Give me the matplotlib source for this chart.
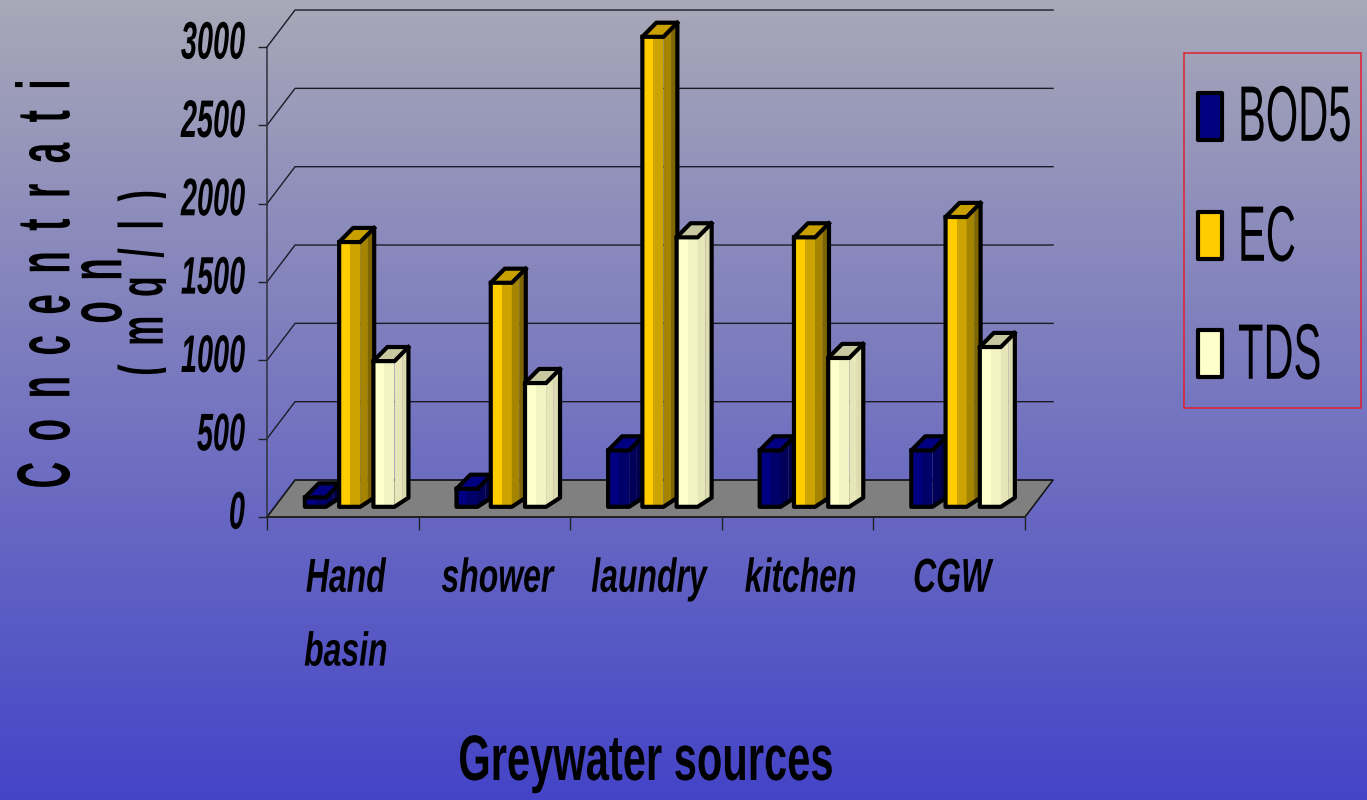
import numpy as np
import matplotlib
matplotlib.use("Agg")
import matplotlib.pyplot as plt
from matplotlib.patches import Polygon, Rectangle
from matplotlib.patheffects import AbstractPathEffect
from matplotlib.transforms import Affine2D

# -------------------------
# Data
# -------------------------
sources = ["Hand\nbasin", "shower", "laundry", "kitchen", "CGW"]
series_names = ["BOD5", "EC", "TDS"]
bod5 = [60, 115, 360, 360, 360]
ec = [1690, 1430, 3000, 1720, 1850]
tds = [930, 790, 1720, 950, 1020]
y_ticks = [0, 500, 1000, 1500, 2000, 2500, 3000]

# front, front shade, side, side shade, top
palette = {
    "BOD5": ["#000080", "#00006a", "#000058", "#000048", "#000080"],
    "EC": ["#ffcc00", "#cca300", "#a58400", "#7f6600", "#c8a000"],
    "TDS": ["#ffffcc", "#f2f2c2", "#e6e6b8", "#dcdcb0", "#c8c8a0"],
}

W, H = 1367, 800
FONT = ["Liberation Sans"]

# depth of the floor and of the bars, in data units
WALL_DX, WALL_DY = 0.185, 236
BAR_DX = 0.092
BAR_DY_TOP, BAR_DY_BOTTOM = 90, 58
BAR_BASE = 65
BAR_START, BAR_PITCH, BAR_W = 0.25, 0.226, 0.139


class Squeeze(AbstractPathEffect):
    # stretches a text around an anchor given in figure pixels
    def __init__(self, sx, sy, anchor, shift=(0, 0)):
        super().__init__()
        self.sx, self.sy, self.anchor, self.shift = sx, sy, anchor, shift

    def draw_path(self, renderer, gc, tpath, affine, rgbFace=None):
        cx, cy = self.anchor
        extra = (Affine2D().translate(-cx, -cy).scale(self.sx, self.sy)
                 .translate(cx + self.shift[0], cy + self.shift[1]))
        renderer.draw_path(gc, tpath, affine + extra, rgbFace)


fig = plt.figure(figsize=(W / 100, H / 100), dpi=100)

# overlay in pixel coordinates for background, legend and titles
bg = fig.add_axes([0, 0, 1, 1], zorder=0)
bg.set_xlim(0, W)
bg.set_ylim(H, 0)
bg.axis("off")
top = np.array([168, 168, 184]) / 255
bottom = np.array([68, 68, 200]) / 255
t = np.linspace(0, 1, 256)[:, None, None]
bg.imshow(top * (1 - t) + bottom * t, extent=[0, W, H, 0], aspect="auto", zorder=0)


def put_text(x, y, s, size, sx=1.0, sy=1.0, weight="normal", style="normal", ha="center", rotation=0, clip=None):
    txt = bg.text(x, y, s, fontsize=size, family=FONT, fontweight=weight, fontstyle=style,
                  ha=ha, va="center", rotation=rotation, color="black", zorder=5)
    txt.set_path_effects([Squeeze(sx, sy, (x, H - y))])
    if clip is not None:
        txt.set_clip_path(Rectangle((clip[0], clip[1]), clip[2], clip[3], transform=bg.transData))
        txt.set_clip_on(True)
    return txt


# -------------------------
# Main axes
# -------------------------
ax = fig.add_axes([267 / W, 1 - 517 / H, (1025 - 267) / W, (517 - 47) / H], zorder=1)
ax.patch.set_visible(False)
ax.set_xlim(0, 5)
ax.set_ylim(0, 3000)
for side in ["top", "right"]:
    ax.spines[side].set_visible(False)
ax.spines["left"].set_color("#30303c")
ax.spines["bottom"].set_color("#202020")
ax.spines["left"].set_linewidth(1.1)
ax.spines["bottom"].set_linewidth(1.1)

# floor
ax.add_patch(Polygon([(0, 0), (5, 0), (5 + WALL_DX, WALL_DY), (WALL_DX, WALL_DY)], closed=True,
                     facecolor="#808080", edgecolor="#111111", lw=1.1, clip_on=False, zorder=1))
# wall grid
for v in y_ticks[1:] + [0]:
    ax.plot([0, WALL_DX, 5 + WALL_DX], [v, v + WALL_DY, v + WALL_DY], color="#1c1c28", lw=1.0,
            clip_on=False, zorder=1.5 if v else 1.2)

ax.set_yticks(y_ticks)
ax.set_xticks(range(6))
ax.set_xticklabels([])
ax.set_xticks(np.arange(5) + 0.5, labels=sources, minor=True)
ax.tick_params(axis="y", length=6.5, width=1, color="#202028", pad=9.4)
ax.tick_params(axis="x", which="major", length=9.5, width=1, color="#202028")
ax.tick_params(axis="x", which="minor", length=0, pad=34)

fig.canvas.draw()
for v, lab in zip(y_ticks, ax.get_yticklabels()):
    lab.set_family(FONT)
    lab.set_fontsize(20.8)
    lab.set_fontweight("bold")
    lab.set_fontstyle("italic")
    px = ax.transData.transform((0, v))[1]
    lab.set_path_effects([Squeeze(1.0, 1.83, (245, px), shift=(0, 3))])
    lab.set_verticalalignment("center")

for i, lab in enumerate(ax.get_xticklabels(minor=True)):
    lab.set_family(FONT)
    lab.set_fontsize(23)
    lab.set_fontweight("bold")
    lab.set_fontstyle("italic")
    lab.set_linespacing(1.85)
    px = ax.transData.transform((i + 0.5, 0))[0]
    lab.set_path_effects([Squeeze(1.0, 1.49, (px, H - 578), shift=(3, 0))])


# -------------------------
# Bars
# -------------------------
def draw_bar(x0, val, colors):
    x1 = x0 + BAR_W
    xm = x0 + BAR_W * 0.52
    b = BAR_BASE
    t_ = BAR_BASE + val
    xs = x1 + BAR_DX * 0.55
    bot_s, top_s = b + BAR_DY_BOTTOM * 0.55, t_ + BAR_DY_TOP * 0.55
    bot_e, top_e = b + BAR_DY_BOTTOM, t_ + BAR_DY_TOP
    z = 3
    kw = dict(closed=True, lw=0, clip_on=False, zorder=z)
    ax.add_patch(Polygon([(x0, b), (xm, b), (xm, t_), (x0, t_)], facecolor=colors[0], **kw))
    ax.add_patch(Polygon([(xm, b), (x1, b), (x1, t_), (xm, t_)], facecolor=colors[1], **kw))
    ax.add_patch(Polygon([(x1, b), (xs, bot_s), (xs, top_s), (x1, t_)], facecolor=colors[2], **kw))
    ax.add_patch(Polygon([(xs, bot_s), (x1 + BAR_DX, bot_e), (x1 + BAR_DX, top_e), (xs, top_s)],
                         facecolor=colors[3], **kw))
    ax.add_patch(Polygon([(x0, t_), (x1, t_), (x1 + BAR_DX, top_e), (x0 + BAR_DX, top_e)],
                         facecolor=colors[4], **kw))
    outline = [(x0, b), (x1, b), (x1 + BAR_DX, bot_e), (x1 + BAR_DX, top_e), (x0 + BAR_DX, top_e), (x0, t_)]
    ax.add_patch(Polygon(outline, closed=True, fill=False, edgecolor="black", lw=3.0, joinstyle="round",
                         clip_on=False, zorder=z))
    ax.plot([x0, x1, x1 + BAR_DX], [t_, t_, top_e], color="black", lw=3.0, solid_joinstyle="round",
            clip_on=False, zorder=z)


for i in range(len(sources)):
    for j, (name, vals) in enumerate(zip(series_names, [bod5, ec, tds])):
        draw_bar(i + BAR_START + j * BAR_PITCH, vals[i], palette[name])

# -------------------------
# Titles
# -------------------------
put_text(646, 763, "Greywater sources", 30, sy=1.54, weight="bold")
put_text(50, 284, "C  o  n  c  e  n  t  r  a  t  i", 26.5, sx=2.04, weight="bold", rotation=90)
put_text(102, 291, "o  n", 26.5, sx=2.04, weight="bold", rotation=90)
put_text(147, 283, "(  m  g  /  l  )", 24.3, sx=1.85, weight="bold", rotation=90,
         clip=(100, 100, 66, 350))

# -------------------------
# Legend
# -------------------------
bg.add_patch(Rectangle((1183.5, 52.5), 177, 355, fill=False, edgecolor="#e02030", lw=1.1, zorder=4))
swatch_y = [93, 212, 330]
label_y = [120, 240, 358]
for name, sy_, ly in zip(series_names, swatch_y, label_y):
    bg.add_patch(Rectangle((1197.5, sy_), 24.5, 47, facecolor=palette[name][0], edgecolor="black", lw=3.0,
                           joinstyle="round", zorder=4))
    put_text(1238, ly, name, 30, sy=1.89, ha="left")

fig.savefig("out.png", dpi=100)
